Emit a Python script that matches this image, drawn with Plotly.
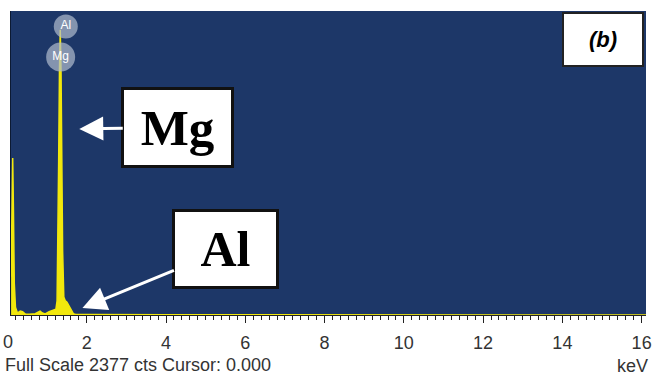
import plotly.graph_objects as go

# Spectrum (energy in keV, counts)
energy = [0.09, 0.11, 0.13, 0.15, 0.17, 0.20, 0.25, 0.32, 0.38, 0.45, 0.55, 0.70,
          0.82, 0.88, 0.95, 1.05, 1.12, 1.18, 1.22, 1.25, 1.27, 1.29, 1.31, 1.33,
          1.35, 1.37, 1.39, 1.42, 1.46, 1.50, 1.54, 1.58, 1.62, 1.66, 1.72, 2.0,
          4.0, 8.0, 12.0, 16.11]
counts = [300, 900, 1228, 800, 250, 60, 15, 30, 25, 8, 5, 10,
          30, 15, 8, 25, 35, 40, 45, 110, 500, 1200, 1900, 2230,
          1900, 1200, 500, 140, 110, 100, 80, 60, 30, 10, 4, 3,
          2, 1, 1, 0]

# Element markers
label_names = ["Mg", "Al"]
label_energy = [1.34, 1.47]
label_counts = [2017, 2256]
label_sizes = [29, 24]

full_scale = 2377
x_ticks = [0, 2, 4, 6, 8, 10, 12, 14, 16]

fig = go.Figure()
fig.add_trace(go.Scatter(
    x=energy, y=counts, mode="lines", fill="tozeroy",
    line=dict(color="#f2e80c", width=1.5), fillcolor="#f2e80c",
    hoverinfo="skip", showlegend=False))
fig.add_trace(go.Scatter(
    x=label_energy, y=label_counts, mode="markers+text", text=label_names,
    textposition="middle center",
    textfont=dict(family="Arial, Liberation Sans", size=12, color="white"),
    marker=dict(size=label_sizes, color="#b0bccd", line=dict(width=0)),
    hoverinfo="skip", showlegend=False, cliponaxis=False))

W, H = 655, 375
L, R, T, B = 11, 3, 11, 60

fig.update_layout(
    width=W, height=H,
    margin=dict(l=L, r=R, t=T, b=B, pad=0),
    paper_bgcolor="white", plot_bgcolor="#1d3768",
    xaxis=dict(range=[0.0875, 16.11], tickvals=x_ticks, ticks="outside",
               ticklen=7, tickwidth=1, tickcolor="#222",
               showline=True, linecolor="#222", linewidth=1,
               showgrid=False, zeroline=False,
               minor=dict(dtick=0.2, ticks="outside", ticklen=4, tickcolor="#222", tickwidth=1, showgrid=False),
               tickfont=dict(family="Arial, Liberation Sans", size=18, color="#333"),
               ticklabelstandoff=4, ticklabeloverflow="allow"),
    yaxis=dict(range=[0, full_scale], showticklabels=False, showgrid=False,
               zeroline=False, showline=True, linecolor="#0c1a33", linewidth=1, ticks=""),
)

serif = "Times New Roman, Liberation Serif, serif"
fig.add_annotation(x=1.81, y=1455, xref="x", yref="y", ax=98.5, ay=-1.5,
                   text="<b>Mg</b>", font=dict(family=serif, size=51, color="black"),
                   bgcolor="white", bordercolor="#111", borderwidth=3, borderpad=1,
                   width=105, height=73, showarrow=True, arrowcolor="white",
                   arrowwidth=3, arrowhead=2, arrowsize=1.6, standoff=0)
fig.add_annotation(x=1.89, y=55, xref="x", yref="y", ax=143.5, ay=-59,
                   text="<b>Al</b>", font=dict(family=serif, size=50, color="black"),
                   bgcolor="white", bordercolor="#111", borderwidth=3, borderpad=1,
                   width=99, height=72, showarrow=True, arrowcolor="white",
                   arrowwidth=3, arrowhead=2, arrowsize=1.6, standoff=0)

def px_x(p):
    return (p - L) / (W - L - R)

def px_y(p):
    return (H - B - p) / (H - B - T)

fig.add_annotation(x=px_x(609), y=px_y(39.5), xref="paper", yref="paper",
                   xanchor="center", yanchor="middle",
                   text="<b><i>(b)</i></b>", font=dict(family="Arial, Liberation Sans", size=22, color="black"),
                   bgcolor="white", bordercolor="#222", borderwidth=2, borderpad=1,
                   width=76, height=49, showarrow=False)
fig.add_annotation(x=px_x(3), y=px_y(365), xref="paper", yref="paper", xanchor="left", yanchor="middle",
                   text="Full Scale 2377 cts Cursor: 0.000", showarrow=False,
                   font=dict(family="Arial, Liberation Sans", size=18, color="#333"))
fig.add_annotation(x=px_x(621), y=px_y(366), xref="paper", yref="paper", xanchor="left", yanchor="middle",
                   text="keV", showarrow=False,
                   font=dict(family="Arial, Liberation Sans", size=18, color="#333"))
fig.add_annotation(x=px_x(8), y=px_y(341.5), xref="paper", yref="paper", xanchor="center", yanchor="middle",
                   text="0", showarrow=False,
                   font=dict(family="Arial, Liberation Sans", size=18, color="#333"))

fig.write_html("out.html", config={"displayModeBar": False},
               post_script="document.body.style.margin='0';document.body.style.padding='0';document.body.style.overflow='hidden';")
